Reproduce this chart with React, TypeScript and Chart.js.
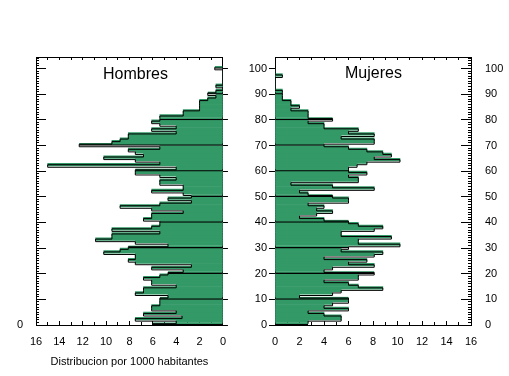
import React, { useEffect, useRef } from 'react';
import { Chart, registerables } from 'chart.js';

Chart.register(...registerables);

const FONT = '"Liberation Sans", Arial, Helvetica, sans-serif';
Chart.defaults.font.family = FONT;
Chart.defaults.color = '#000';

// Age groups (one-year bands)
const AGES = Array.from({ length: 101 }, (_, i) => i);

// Distribution per 1000 inhabitants, by age 0..100
const HOMBRES = [
  6.0, 4.0, 7.5, 3.5, 6.8, 4.0, 6.1, 6.1, 5.4, 5.4,
  5.4, 4.7, 7.5, 6.8, 6.8, 4.0, 6.1, 6.1, 6.8, 5.4,
  4.7, 3.4, 6.1, 2.7, 7.5, 8.1, 7.5, 7.5, 10.2, 8.8,
  8.1, 4.7, 7.5, 10.9, 9.5, 9.5, 5.4, 9.5, 6.1, 5.4,
  5.4, 6.8, 6.1, 6.1, 3.4, 6.1, 8.8, 5.4, 2.7, 4.7,
  2.7, 3.4, 6.1, 3.4, 3.4, 5.4, 5.4, 4.0, 5.4, 7.5,
  7.5, 4.0, 15.0, 5.4, 7.5, 10.2, 6.8, 7.5, 8.1, 5.4,
  12.3, 9.5, 8.8, 8.1, 8.1, 4.0, 6.1, 4.0, 5.4, 6.1,
  5.4, 5.4, 3.4, 3.4, 2.0, 2.0, 2.0, 2.0, 1.3, 0.6,
  1.3, 0.6, 0, 0.6, 0, 0, 0, 0, 0, 0,
  0.7,
];

const MUJERES = [
  2.7, 2.7, 5.4, 5.4, 4.0, 2.7, 6.0, 4.0, 4.7, 6.0,
  6.0, 2.0, 4.7, 5.4, 8.8, 6.8, 6.0, 4.0, 6.8, 6.8,
  8.1, 4.0, 4.7, 8.1, 6.0, 7.5, 4.0, 8.1, 8.8, 5.4,
  6.0, 10.2, 6.8, 6.8, 9.5, 5.4, 5.4, 8.1, 8.8, 6.8,
  6.0, 4.0, 2.0, 3.4, 4.7, 3.4, 4.0, 2.7, 6.0, 6.0,
  4.7, 2.7, 2.0, 8.1, 4.7, 1.3, 6.8, 6.8, 6.0, 7.5,
  6.0, 6.0, 6.7, 7.5, 10.2, 8.1, 9.5, 8.8, 7.5, 6.0,
  4.0, 8.1, 8.1, 5.4, 8.1, 6.0, 6.8, 4.0, 4.0, 2.7,
  4.7, 2.7, 2.7, 2.7, 1.3, 2.0, 1.3, 1.3, 0.6, 0.6,
  0.6, 0.6, 0, 0, 0, 0, 0, 0.6, 0, 0,
  0,
];

const X_MAX = 16;
const Y_MAX = 104.5;
const GREEN = '#339966';

function buildDatasets(values: number[]) {
  const linePts = values.map((v, i) => ({ x: v, y: AGES[i] + 0.5 }));
  const barPts = values.map((v, i) => ({ x: v, y: AGES[i] + 0.5 }));
  return [
    {
      type: 'line',
      data: linePts,
      stepped: 'before',
      borderColor: '#000',
      borderWidth: 1,
      pointRadius: 0,
      fill: false,
      order: 0,
      xAxisID: 'x',
      yAxisID: 'y',
    },
    {
      type: 'bar',
      data: barPts,
      backgroundColor: GREEN,
      borderColor: '#000',
      borderSkipped: false,
      borderWidth: (ctx: any) =>
        AGES[ctx.dataIndex] % 10 === 0 ? { top: 0, right: 0, bottom: 2, left: 0 } : 0,
      barPercentage: 1,
      categoryPercentage: 1,
      order: 1,
      xAxisID: 'x',
      yAxisID: 'y',
    },
  ];
}

function axis(
  ax: 'x' | 'y',
  position: string,
  step: number,
  tickLength: number,
  size: number,
  weight: number,
  reverse: boolean,
  ticks: any = { display: false },
  extra: any = {}
) {
  return {
    axis: ax,
    position,
    type: 'linear',
    min: 0,
    max: ax === 'x' ? X_MAX : Y_MAX,
    reverse,
    weight,
    offset: false,
    grid: {
      offset: false,
      drawOnChartArea: false,
      drawTicks: true,
      tickLength,
      color: '#000',
      tickColor: '#000',
      lineWidth: 1,
    },
    border: { display: true, color: '#000', width: 1 },
    ticks: {
      stepSize: step,
      autoSkip: false,
      includeBounds: false,
      maxRotation: 0,
      minRotation: 0,
      ...ticks,
    },
    afterFit: (s: any) => {
      if (ax === 'x') s.height = size;
      else s.width = size;
    },
    ...extra,
  };
}

const tickFont = { family: FONT, size: 11 };

function leftConfig(): any {
  return {
    type: 'bar',
    data: { datasets: buildDatasets(HOMBRES) },
    options: {
      animation: false,
      responsive: false,
      indexAxis: 'y',
      layout: { padding: { top: 57, left: 0, right: 0, bottom: 0 } },
      plugins: { legend: { display: false }, tooltip: { enabled: false } },
      scales: {
        x: axis('x', 'bottom', 2, -4, 51, 1, true,
          { display: true, font: tickFont, color: '#000', padding: 14 },
          {
            title: {
              display: true,
              text: 'Distribucion por 1000 habitantes',
              font: { family: FONT, size: 11 },
              color: '#000',
              padding: { top: 0, bottom: 7 },
            },
          }),
        y: axis('y', 'left', 10, -10, 36, 1, false,
          {
            display: true, font: tickFont, color: '#000', padding: 23,
            callback: (v: number) => (v === 0 ? '0' : ''),
          }),
        xMinor: axis('x', 'bottom', 1, -3, 0, 0, true),
        xTop: axis('x', 'top', 1, -3, 0, 0, true),
        yMinor: axis('y', 'left', 1, -3, 0, 0, false),
        yRight: axis('y', 'right', 10, 5, 7, 0, false),
      },
    },
  };
}

function rightConfig(): any {
  return {
    type: 'bar',
    data: { datasets: buildDatasets(MUJERES) },
    options: {
      animation: false,
      responsive: false,
      indexAxis: 'y',
      layout: { padding: { top: 57, left: 0, right: 0, bottom: 0 } },
      plugins: { legend: { display: false }, tooltip: { enabled: false } },
      scales: {
        x: axis('x', 'bottom', 2, -4, 51, 1, false,
          { display: true, font: tickFont, color: '#000', padding: 14 }),
        y: axis('y', 'left', 10, 6, 35, 1, false,
          { display: true, font: tickFont, color: '#000', padding: 2 }),
        xMinor: axis('x', 'bottom', 1, -3, 0, 0, false),
        xTop: axis('x', 'top', 1, -3, 0, 0, false),
        yRight: axis('y', 'right', 10, -10, 38, 1, false,
          { display: true, font: tickFont, color: '#000', padding: 24 }),
        yRightMinor: axis('y', 'right', 1, -3, 0, 0, false),
      },
    },
  };
}

export default function App() {
  const leftRef = useRef<HTMLCanvasElement | null>(null);
  const rightRef = useRef<HTMLCanvasElement | null>(null);

  useEffect(() => {
    const c1 = new Chart(leftRef.current as HTMLCanvasElement, leftConfig());
    const c2 = new Chart(rightRef.current as HTMLCanvasElement, rightConfig());
    return () => {
      c1.destroy();
      c2.destroy();
    };
  }, []);

  const label: React.CSSProperties = {
    position: 'absolute',
    fontFamily: FONT,
    fontSize: 16,
    lineHeight: '16px',
    color: '#000',
    whiteSpace: 'nowrap',
  };

  return (
    <div style={{ position: 'absolute', left: 0, top: 0, width: 509, height: 376, background: '#fff' }}>
      <canvas
        ref={leftRef}
        width={240}
        height={376}
        style={{ position: 'absolute', left: 0, top: 0, width: 240, height: 376 }}
      />
      <canvas
        ref={rightRef}
        width={269}
        height={376}
        style={{ position: 'absolute', left: 240, top: 0, width: 269, height: 376 }}
      />
      <div style={{ ...label, left: 103, top: 66 }}>Hombres</div>
      <div style={{ ...label, left: 345, top: 65 }}>Mujeres</div>
    </div>
  );
}
